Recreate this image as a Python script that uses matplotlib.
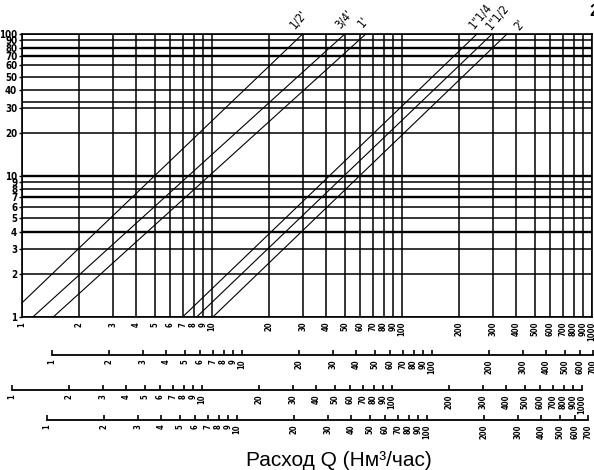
import numpy as np
import matplotlib
matplotlib.use("Agg")
import matplotlib.pyplot as plt

# main chart: flow Q (x) vs pressure drop (y), log-log
q_ticks = [1, 2, 3, 4, 5, 6, 7, 8, 9, 10,
           20, 30, 40, 50, 60, 70, 80, 90, 100,
           200, 300, 400, 500, 600, 700, 800, 900, 1000]
dp_ticks = [1, 2, 3, 4, 5, 6, 7, 8, 9, 10,
            20, 30, 40, 50, 60, 70, 80, 90, 100]
dp_extra = [33]
dp_thick = [4, 7, 10, 70, 80]

# pipe size lines, read as start / end points
pipe_names = ["1/2'", "3/4'", "1'", "1\"1/4", "1\"1/2", "2'"]
q_start = [1.0, 1.14, 1.46, 7.0, 8.3, 10.1]
dp_start = [1.26, 1.0, 1.0, 1.0, 1.0, 1.0]
q_end = [30, 50, 64, 248, 298, 357]
dp_end = [100, 100, 99, 100, 100, 100]

# the three auxiliary flow scales under the chart
scale_a = [1, 2, 3, 4, 5, 6, 7, 8, 9, 10, 20, 30, 40, 50, 60, 70, 80, 90, 100,
           200, 300, 400, 500, 600, 700]
scale_b = [1, 2, 3, 4, 5, 6, 7, 8, 9, 10, 20, 30, 40, 50, 60, 70, 80, 90, 100,
           200, 300, 400, 500, 600, 700, 800, 900, 1000]
scale_c = [1, 2, 3, 4, 5, 6, 7, 8, 9, 10, 20, 30, 40, 50, 60, 70, 80, 90, 100,
           200, 300, 400, 500, 600, 700]

xlabel = "Расход Q (Нм³/час)"

W, H = 594, 470
DEC = 190.0  # pixels per decade along x

fig = plt.figure(figsize=(W / 100, H / 100), dpi=100)


def px_axes(left, top, width, height):
    return fig.add_axes([left / W, 1 - (top + height) / H, width / W, height / H])


small = dict(family="DejaVu Sans", stretch="condensed")

# ---- main chart
ax = px_axes(22, 34, DEC * np.log10(1000), 283)
ax.set_xscale("log")
ax.set_yscale("log")
ax.set_xlim(1, 1000)
ax.set_ylim(1, 100)

for q in q_ticks:
    ax.axvline(q, color="black", lw=1.1, zorder=1)
for d in dp_ticks + dp_extra:
    ax.axhline(d, color="black", lw=1.7 if d in dp_thick else 1.1, zorder=1)

for i in range(len(pipe_names)):
    ax.plot([q_start[i], q_end[i]], [dp_start[i], dp_end[i]],
            color="black", lw=0.8, zorder=2, clip_on=False)

label_off = [(-6, 3), (-2, 3), (0, 4), (-1, 3), (1, 2), (15, 1)]
for i, name in enumerate(pipe_names):
    ax.annotate(name, xy=(q_end[i], 100), xytext=label_off[i],
                textcoords="offset pixels", rotation=50, rotation_mode="anchor",
                ha="left", va="bottom", fontsize=8.5, annotation_clip=False, **small)

ax.set_xticks(q_ticks)
ax.set_xticklabels([str(v) for v in q_ticks], rotation=90, fontsize=5.5,
                   fontweight="bold", **small)
ax.set_yticks(dp_ticks)
ax.set_yticklabels([str(v) for v in dp_ticks], fontsize=7, fontweight="bold", **small)
ax.minorticks_off()
ax.tick_params(axis="x", length=0, pad=3.5)
ax.tick_params(axis="y", length=2.5, width=1.0, pad=1)
for s in ax.spines.values():
    s.set_linewidth(1.2)


# ---- auxiliary scales
def flow_scale(left, y, ticks):
    a = px_axes(left, y, DEC * np.log10(ticks[-1]), 1)
    a.set_xscale("log")
    a.set_xlim(1, ticks[-1])
    a.set_yticks([])
    a.patch.set_alpha(0)
    for k in ["top", "left", "right"]:
        a.spines[k].set_visible(False)
    a.spines["bottom"].set_linewidth(1.3)
    a.set_xticks(ticks)
    a.set_xticklabels([str(v) for v in ticks], rotation=90, fontsize=5.5,
                      fontweight="bold", **small)
    a.minorticks_off()
    a.tick_params(axis="x", direction="in", length=3.5, width=1.2, pad=3)
    return a


flow_scale(52, 354, scale_a)
flow_scale(12, 389, scale_b)
flow_scale(47, 419, scale_c)

fig.text(339 / W, 1 - 466 / H, xlabel, ha="center", va="baseline",
         fontsize=15, family="Liberation Sans")
fig.text(589 / W, 1 - 12 / H, "2", ha="left", va="center",
         fontsize=12, fontweight="bold", family="Liberation Sans")

fig.savefig("out.png", dpi=100)
